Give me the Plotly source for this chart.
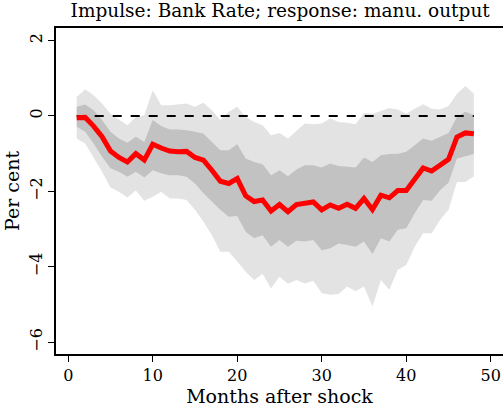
import plotly.graph_objects as go

# months after shock
months = list(range(1, 49))

# point estimate (per cent)
irf = [-0.05, -0.04, -0.27, -0.55, -0.93, -1.10, -1.22, -1.00, -1.17, -0.75,
       -0.85, -0.93, -0.95, -0.94, -1.10, -1.17, -1.44, -1.73, -1.79, -1.66,
       -2.12, -2.27, -2.23, -2.52, -2.35, -2.54, -2.35, -2.32, -2.28, -2.49,
       -2.36, -2.45, -2.34, -2.45, -2.19, -2.48, -2.10, -2.17, -1.98, -1.98,
       -1.66, -1.38, -1.46, -1.29, -1.15, -0.56, -0.45, -0.47]

# inner band (darker grey)
inner_hi = [0.24, 0.30, 0.15, -0.11, -0.42, -0.60, -0.71, -0.55, -0.69, -0.11,
            -0.27, -0.36, -0.36, -0.38, -0.42, -0.47, -0.69, -0.91, -0.91, -0.75,
            -1.13, -1.22, -1.28, -1.57, -1.44, -1.60, -1.42, -1.31, -1.31, -1.37,
            -1.26, -1.33, -1.35, -1.37, -1.10, -1.22, -1.04, -1.01, -1.00, -0.95,
            -0.78, -0.60, -0.66, -0.55, -0.45, -0.03, 0.11, 0.02]
inner_lo = [-0.29, -0.42, -0.73, -1.08, -1.39, -1.48, -1.61, -1.48, -1.63, -1.44,
            -1.52, -1.57, -1.57, -1.61, -1.79, -2.05, -2.27, -2.49, -2.67, -2.65,
            -3.07, -3.24, -3.16, -3.47, -3.29, -3.47, -3.31, -3.33, -3.29, -3.56,
            -3.51, -3.38, -3.42, -3.47, -3.33, -3.66, -3.24, -3.33, -3.02, -2.98,
            -2.58, -2.23, -2.25, -1.97, -1.77, -1.13, -1.07, -1.01]

# outer band (light grey)
outer_hi = [0.50, 0.71, 0.55, 0.33, 0.06, -0.10, -0.25, -0.03, 0.02, 0.68,
            0.28, 0.28, 0.30, 0.33, 0.24, 0.35, 0.15, -0.11, 0.11, 0.24,
            -0.03, -0.16, -0.25, -0.51, -0.45, -0.60, -0.40, -0.20, -0.22, -0.20,
            -0.07, -0.16, -0.18, -0.22, 0.08, 0.06, 0.13, 0.21, 0.17, 0.06,
            0.19, 0.31, 0.19, 0.17, 0.26, 0.59, 0.79, 0.59]
outer_lo = [-0.60, -0.73, -1.10, -1.48, -1.90, -2.01, -2.16, -1.98, -2.25, -2.14,
            -2.01, -2.19, -2.19, -2.23, -2.49, -2.80, -3.16, -3.60, -3.60, -3.86,
            -4.13, -4.35, -4.19, -4.57, -4.26, -4.45, -4.35, -4.44, -4.37, -4.70,
            -4.74, -4.72, -4.52, -4.65, -4.52, -5.05, -4.35, -4.61, -4.08, -3.95,
            -3.47, -3.11, -3.11, -2.76, -2.49, -1.75, -1.75, -1.60]

x_ticks = [0, 10, 20, 30, 40, 50]
y_ticks = [-6, -4, -2, 0, 2]

FONT = "DejaVu Serif"

fig = go.Figure()

# shaded bands drawn as closed polygons
fig.add_trace(go.Scatter(
    x=months + months[::-1], y=outer_hi + outer_lo[::-1],
    fill="toself", fillcolor="#e3e3e3", line=dict(width=0),
    mode="lines", hoverinfo="skip"
))
fig.add_trace(go.Scatter(
    x=months + months[::-1], y=inner_hi + inner_lo[::-1],
    fill="toself", fillcolor="#c2c2c2", line=dict(width=0),
    mode="lines", hoverinfo="skip"
))
fig.add_trace(go.Scatter(
    x=[months[0], months[-1]], y=[0, 0], mode="lines",
    line=dict(color="black", width=2, dash="dash")
))
fig.add_trace(go.Scatter(
    x=months, y=irf, mode="lines",
    line=dict(color="#ff0000", width=5)
))

fig.update_layout(
    width=503, height=408,
    showlegend=False,
    plot_bgcolor="white", paper_bgcolor="white",
    font=dict(family=FONT, size=16, color="black"),
    title=dict(text="Impulse: Bank Rate; response: manu. output",
               x=0.557, xanchor="center", y=0.99, yanchor="top",
               font=dict(size=18.5)),
    margin=dict(t=28, b=54, l=56, r=0)
)
fig.update_xaxes(
    range=[-1.45, 51.45], tickvals=x_ticks,
    showgrid=False, zeroline=False,
    showline=True, linecolor="black", linewidth=1.5, mirror=True,
    ticks="outside", ticklen=6, tickcolor="black",
    title=dict(text="Months after shock", standoff=0)
)
fig.update_yaxes(
    range=[-6.31, 2.33], tickvals=y_ticks, tickangle=-90,
    showgrid=False, zeroline=False,
    showline=True, linecolor="black", linewidth=1.5,
    ticks="outside", ticklen=6, tickcolor="black",
    title=dict(text="Per cent", standoff=2)
)

# drop the default page margin so the figure sits at the window's corner
fig.write_html("out.html", config={"displayModeBar": False},
               post_script="document.body.style.margin='0';")
